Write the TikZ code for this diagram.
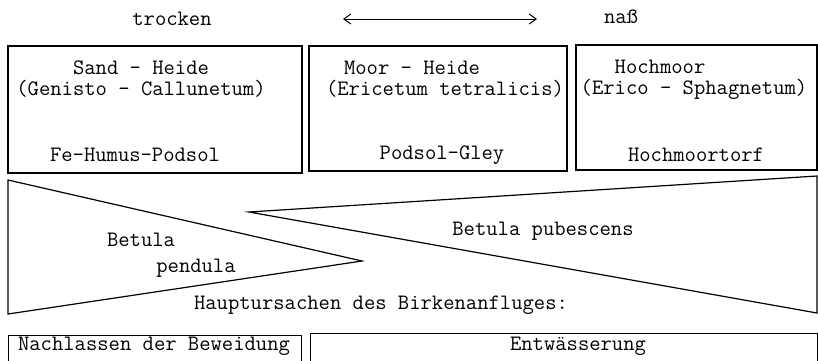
\documentclass[tikz,border=0pt]{standalone}
\usetikzlibrary{arrows.meta}
\begin{document}
\begin{tikzpicture}[x=1pt,y=-1pt,
  line width=1.2pt,
  txt/.style={font=\fontsize{22}{26}\selectfont\ttfamily, inner sep=0pt},
  frame/.style={draw, inner sep=0pt, line width=1.2pt},
  axis/.style={{Straight Barb[length=7pt,width=10pt]}-{Straight Barb[length=7pt,width=10pt]}, line width=1pt}]
\useasboundingbox (0,0) rectangle (818,360);

% moisture gradient
\node[txt] (dry) at (172,19) {trocken};
\node[txt] (wet) at (621,17) {naß};
\coordinate (aL) at (343,19);
\coordinate (aR) at (537,19);
\draw[axis] (aL) -- (aR);

% vegetation / soil boxes
\node[frame, minimum width=294pt, minimum height=127pt] (b1) at (155,109.5) {};
\node[frame, minimum width=258pt, minimum height=125pt] (b2) at (438,108.5) {};
\node[frame, minimum width=241pt, minimum height=125pt] (b3) at (696.5,107.5) {};

\node[txt] (b1a) at (141,68) {Sand - Heide};
\node[txt] (b1b) at (141,89) {(Genisto - Callunetum)};
\node[txt] (b1c) at (135,155) {Fe-Humus-Podsol};

\node[txt] (b2a) at (412,68) {Moor - Heide};
\node[txt] (b2b) at (445,89) {(Ericetum tetralicis)};
\node[txt] (b2c) at (442,155) {Podsol-Gley};

\node[txt] (b3a) at (660,67) {Hochmoor};
\node[txt] (b3b) at (694,89) {(Erico - Sphagnetum)};
\node[txt] (b3c) at (696,155) {Hochmoortorf};

% birch wedges
\coordinate (pTL) at (8,180);
\coordinate (pTip) at (362,261);
\coordinate (pBL) at (8,314);
\draw[line join=miter] (pTL) -- (pTip) -- (pBL) -- cycle;

\coordinate (qTR) at (817,176);
\coordinate (qTip) at (249,212);
\coordinate (qBR) at (817,313);
\draw[line join=miter] (qTR) -- (qTip) -- (qBR) -- cycle;

\node[txt] (bp1) at (141,240) {Betula};
\node[txt] (bp2) at (196,268) {pendula};
\node[txt] (bpu) at (543,231) {Betula pubescens};

\node[txt] (cause) at (381,305) {Hauptursachen des Birkenanfluges:};

% causes
\node[frame, minimum width=293pt, minimum height=40pt, anchor=north west] (c1) at (8,335) {};
\node[frame, minimum width=507pt, minimum height=40pt, anchor=north west] (c2) at (310,333) {};
\node[txt] (c1t) at (154,346) {Nachlassen der Beweidung};
\node[txt] (c2t) at (578,346) {Entwässerung};
\end{tikzpicture}
\end{document}
